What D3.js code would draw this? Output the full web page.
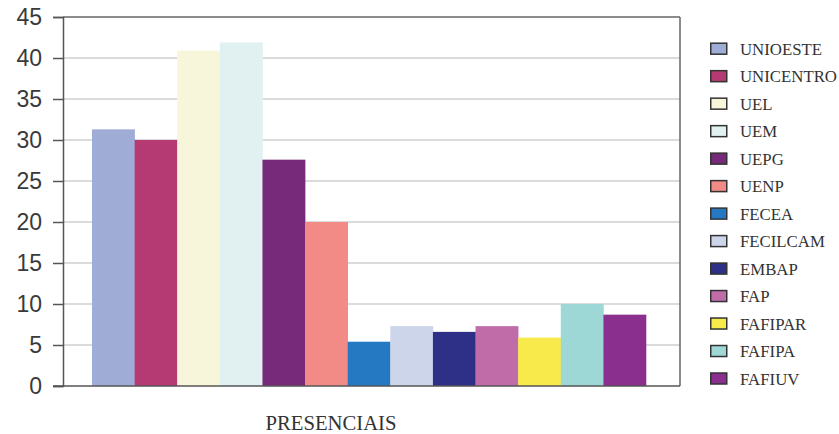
<!DOCTYPE html>
<html>
<head>
<meta charset="utf-8">
<script src="https://cdn.jsdelivr.net/npm/d3@7"></script>
<style>
  html, body { margin: 0; padding: 0; background: #fff; }
  svg { display: block; }
</style>
</head>
<body>
<svg id="chart" width="839" height="434"></svg>
<script>
const categories = ["UNIOESTE","UNICENTRO","UEL","UEM","UEPG","UENP","FECEA","FECILCAM","EMBAP","FAP","FAFIPAR","FAFIPA","FAFIUV"];
const values = [31.3, 30, 40.9, 41.9, 27.6, 20, 5.4, 7.3, 6.6, 7.3, 5.9, 10, 8.7];
const colors = ["#9FADD6","#B53A73","#F8F6DA","#E1F1F1","#772A7A","#F28B86","#2479C2","#CDD5EA","#2E2F87","#C06CA8","#F8EA4A","#9ED8D6","#8A2F8E"];
const yTicks = [0,5,10,15,20,25,30,35,40,45];
const groupLabel = "PRESENCIAIS";

const svg = d3.select("#chart");
const L = 63, T = 17, R = 680, B = 386;

const y = d3.scaleLinear().domain([0, 45]).range([B, T]);
const x = d3.scaleBand().domain(categories).range([92, 646]).padding(0);

// gridlines
svg.append("g").selectAll("line").data(yTicks.filter(t => t > 0 && t < 45)).join("line")
  .attr("x1", L).attr("x2", R)
  .attr("y1", d => y(d)).attr("y2", d => y(d))
  .attr("stroke", "#cfcfcf").attr("stroke-width", 1.5);

// bars
svg.append("g").selectAll("rect").data(categories).join("rect")
  .attr("x", d => x(d))
  .attr("y", (d, i) => y(values[i]))
  .attr("width", x.bandwidth() + 0.3)
  .attr("height", (d, i) => B - y(values[i]))
  .attr("fill", (d, i) => colors[i]);

// frame: top and right border
svg.append("line").attr("x1", L).attr("x2", R).attr("y1", T).attr("y2", T)
  .attr("stroke", "#666").attr("stroke-width", 1.5);
svg.append("line").attr("x1", R).attr("x2", R).attr("y1", T).attr("y2", B)
  .attr("stroke", "#666").attr("stroke-width", 1.5);

// y axis
const yAxis = d3.axisLeft(y).tickValues(yTicks).tickSize(10).tickPadding(11).tickFormat(d3.format("d"));
const gy = svg.append("g").attr("transform", `translate(${L},0)`).call(yAxis);
gy.select(".domain").attr("stroke", "#555").attr("stroke-width", 1.5);
gy.selectAll(".tick line").attr("stroke", "#555").attr("stroke-width", 1.5);
gy.selectAll(".tick text")
  .attr("font-family", "'Liberation Sans', Arial, sans-serif")
  .attr("font-size", 23)
  .attr("fill", "#3a3a3a");

// x baseline
svg.append("line").attr("x1", L - 10).attr("x2", R).attr("y1", B).attr("y2", B)
  .attr("stroke", "#555").attr("stroke-width", 1.5);

// category label
svg.append("text")
  .attr("x", 331).attr("y", 430)
  .attr("text-anchor", "middle")
  .attr("font-family", "'Liberation Serif', 'DejaVu Serif', serif")
  .attr("font-size", 20)
  .attr("fill", "#333")
  .attr("textLength", 131)
  .attr("lengthAdjust", "spacingAndGlyphs")
  .text(groupLabel);

// legend
const legY = d3.scalePoint().domain(categories).range([48.7, 378.5]);
const leg = svg.append("g").selectAll("g").data(categories).join("g")
  .attr("transform", d => `translate(710,${legY(d)})`);
leg.append("rect")
  .attr("x", 0.75).attr("y", -5.5)
  .attr("width", 16).attr("height", 11)
  .attr("fill", (d, i) => colors[i])
  .attr("stroke", "#333").attr("stroke-width", 1.5);
leg.append("text")
  .attr("x", 30).attr("y", 6)
  .attr("font-family", "'Liberation Serif', 'DejaVu Serif', serif")
  .attr("font-size", 16.8)
  .attr("fill", "#333")
  .text(d => d);
</script>
</body>
</html>
